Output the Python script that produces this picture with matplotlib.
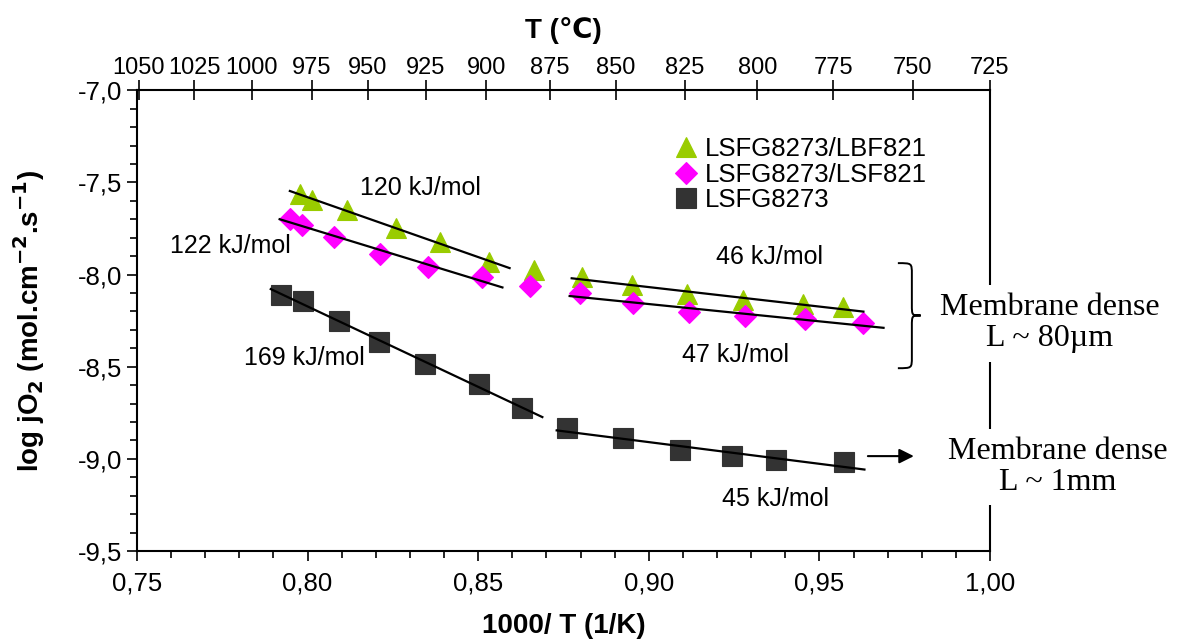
import matplotlib
matplotlib.use("Agg")
import matplotlib.pyplot as plt
import numpy as np
from matplotlib.path import Path
from matplotlib.patches import PathPatch
from matplotlib.ticker import FuncFormatter, MultipleLocator

plt.rcParams["font.family"] = ["Liberation Sans", "DejaVu Sans"]

# 1000/T (1/K) and log jO2
x_lbf = [0.7978, 0.8013, 0.8115, 0.8259, 0.8388, 0.8532, 0.8664,
         0.8804, 0.8951, 0.9112, 0.9276, 0.9452, 0.9569]
y_lbf = [-7.564, -7.597, -7.651, -7.748, -7.824, -7.933, -7.976,
         -8.014, -8.057, -8.106, -8.139, -8.161, -8.177]

x_lsf = [0.7948, 0.7984, 0.8077, 0.8212, 0.8353, 0.8511, 0.8652,
         0.8798, 0.8954, 0.9118, 0.9282, 0.9458, 0.9628]
y_lsf = [-7.700, -7.732, -7.797, -7.889, -7.960, -8.014, -8.063,
         -8.101, -8.155, -8.204, -8.226, -8.242, -8.264]

x_bare = [0.7922, 0.7987, 0.8092, 0.8209, 0.8344, 0.8502, 0.8628,
          0.8760, 0.8924, 0.9091, 0.9244, 0.9373, 0.9572]
y_bare = [-8.112, -8.144, -8.253, -8.367, -8.486, -8.594, -8.724,
          -8.833, -8.887, -8.952, -8.985, -9.007, -9.017]

series_labels = ["LSFG8273/LBF821", "LSFG8273/LSF821", "LSFG8273"]

# Arrhenius fits: (series index, first point, last point, label)
fits = [
    (0, 0, 5, "120 kJ/mol"),
    (1, 0, 5, "122 kJ/mol"),
    (0, 7, 12, "46 kJ/mol"),
    (1, 7, 12, "47 kJ/mol"),
    (2, 0, 6, "169 kJ/mol"),
    (2, 7, 12, "45 kJ/mol"),
]

temps_c = [1050, 1025, 1000, 975, 950, 925, 900, 875, 850, 825, 800, 775, 750, 725]

xs = [x_lbf, x_lsf, x_bare]
ys = [y_lbf, y_lsf, y_bare]

FS = 18.5

fig = plt.figure(figsize=(11.78, 6.4), dpi=100)
ax = fig.add_axes((0.1163, 0.139, 0.7241, 0.720))

styles = [
    dict(marker="^", color="#99CC00", markersize=14.5),
    dict(marker="D", color="#FF00FF", markersize=11),
    dict(marker="s", color="#333333", markersize=14),
]
for x, y, lab, st in zip(xs, ys, series_labels, styles):
    ax.plot(x, y, linestyle="none", label=lab, markeredgewidth=0.8,
            markeredgecolor=st["color"], zorder=3, **st)

# fit lines through the chosen points
label_pos = {
    "120 kJ/mol": (0.8332, -7.531),
    "122 kJ/mol": (0.7773, -7.846),
    "46 kJ/mol": (0.9355, -7.906),
    "47 kJ/mol": (0.9253, -8.437),
    "169 kJ/mol": (0.7992, -8.453),
    "45 kJ/mol": (0.9370, -9.218),
}
for si, i0, i1, lab in fits:
    fx = np.array(xs[si][i0:i1 + 1])
    fy = np.array(ys[si][i0:i1 + 1])
    k, b = np.polyfit(fx, fy, 1)
    lx = np.array([fx.min() - 0.003, fx.max() + 0.006])
    ax.plot(lx, k * lx + b, color="black", lw=1.6, zorder=4)
    ax.text(*label_pos[lab], lab, fontsize=18, ha="center", va="center")

ax.set_xlim(0.75, 1.00)
ax.set_ylim(-9.5, -7.0)
ax.xaxis.set_major_locator(MultipleLocator(0.05))
ax.xaxis.set_minor_locator(MultipleLocator(0.01))
ax.yaxis.set_major_locator(MultipleLocator(0.5))
ax.yaxis.set_minor_locator(MultipleLocator(0.1))
ax.xaxis.set_major_formatter(FuncFormatter(lambda v, p: f"{v:.2f}".replace(".", ",")))
ax.yaxis.set_major_formatter(FuncFormatter(lambda v, p: f"{v:.1f}".replace(".", ",")))
ax.tick_params(which="both", direction="out", labelsize=FS, width=1.2,
               top=False, right=False)
ax.tick_params(which="major", length=7)
ax.tick_params(which="minor", length=5)
ax.tick_params(axis="x", pad=8)
for sp in ax.spines.values():
    sp.set_linewidth(1.5)

ax.set_xlabel("1000/ T (1/K)", fontsize=20, fontweight="bold", labelpad=12)
ax.set_ylabel("log jO$_\\mathbf{2}$ (mol.cm$^\\mathbf{-2}$.s$^\\mathbf{-1}$)",
              fontsize=20, fontweight="bold", labelpad=22)

# top temperature axis: 1000/T(K), with the hot end spread out to the
# left edge as in the original chart so the labels do not collide
ax_top = ax.twiny()
ax_top.set_xlim(ax.get_xlim())
top_pos = 1000.0 / (np.array(temps_c) + 273.15)
p975 = top_pos[temps_c.index(975)]
stretch = (p975 - 0.7505) / (p975 - top_pos[0])
top_pos = np.where(top_pos < p975, p975 - (p975 - top_pos) * stretch, top_pos)
top_pos = np.clip(top_pos, 0.75, 1.0)
ax_top.set_xticks(top_pos)
ax_top.set_xticklabels([str(t) for t in temps_c])
ax_top.tick_params(axis="x", direction="inout", length=14, width=1.2,
                   labelsize=17, pad=1)
ax_top.set_xlabel("T (℃)", fontsize=20, fontweight="bold", labelpad=14)
for sp in ax_top.spines.values():
    sp.set_visible(False)

leg = ax.legend(loc="upper left", bbox_to_anchor=(0.62, 0.92), frameon=False,
                fontsize=FS, handlelength=0.8, handletextpad=0.3,
                labelspacing=0.05, borderaxespad=0)

# curly brace for the thin membranes
xe, xs_, xt = 0.9730, 0.9771, 0.9797
yt, ym, yb = -7.938, -8.222, -8.508
r = 0.06
verts = [(xe, yt), (xs_, yt), (xs_, yt), (xs_, yt - r),
         (xs_, ym + r),
         (xs_, ym), (xs_, ym), (xt, ym),
         (xs_, ym), (xs_, ym), (xs_, ym - r),
         (xs_, yb + r),
         (xs_, yb), (xs_, yb), (xe, yb)]
codes = [Path.MOVETO, Path.CURVE4, Path.CURVE4, Path.CURVE4,
         Path.LINETO,
         Path.CURVE4, Path.CURVE4, Path.CURVE4,
         Path.CURVE4, Path.CURVE4, Path.CURVE4,
         Path.LINETO,
         Path.CURVE4, Path.CURVE4, Path.CURVE4]
ax.add_patch(PathPatch(Path(verts, codes), fill=False, lw=1.4,
                       color="black", clip_on=False))

ax.annotate("", xy=(0.9785, -8.985), xytext=(0.9634, -8.985),
            arrowprops=dict(arrowstyle="-|>", color="black", lw=1.5,
                            mutation_scale=22), annotation_clip=False)

serif = dict(family=["Liberation Serif", "DejaVu Serif"], fontsize=23,
             ha="center", va="center", linespacing=1.1, clip_on=False,
             bbox=dict(facecolor="white", edgecolor="none", pad=6), zorder=5)
ax.text(1.0176, -8.264, "Membrane dense\nL ~ 80µm", **serif)
ax.text(1.0199, -9.044, "Membrane dense\nL ~ 1mm", **serif)

fig.savefig("out.png", dpi=100)
